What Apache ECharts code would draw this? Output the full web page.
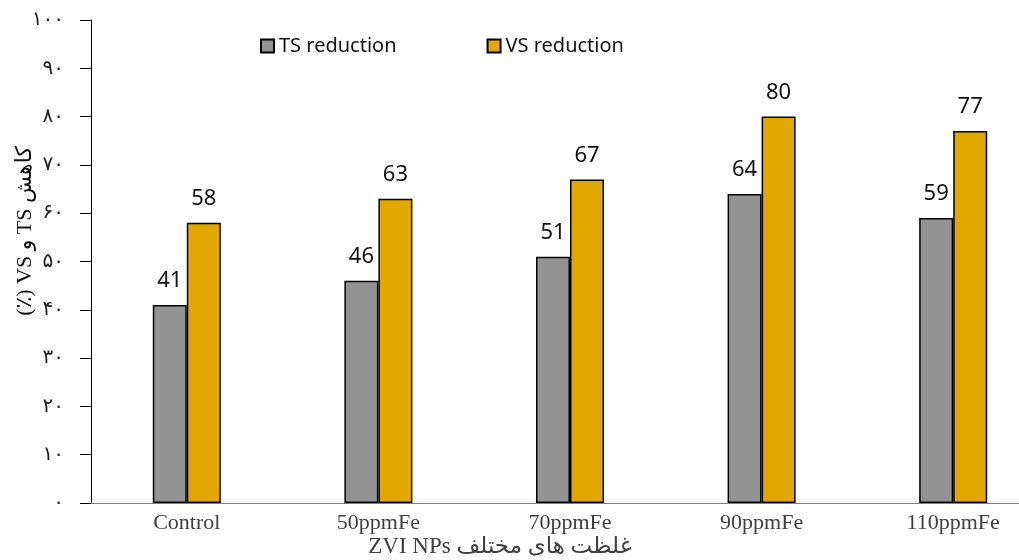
<!DOCTYPE html>
<html>
<head>
<meta charset="utf-8">
<script src="https://cdn.jsdelivr.net/npm/echarts@6/dist/echarts.min.js"></script>
<style>
  html, body { margin: 0; padding: 0; background: #fff; overflow: hidden; width: 1019px; height: 560px; }
  /* the drawing surface is a little wider than the page, so the last group sits near the border */
  #chart { width: 1049px; height: 560px; }
</style>
</head>
<body>
<div id="chart"></div>
<script>
// Treatments and measured reductions (%)
const categories = ['Control', '50ppmFe', '70ppmFe', '90ppmFe', '110ppmFe'];
const tsReduction = [41, 46, 51, 64, 59];
const vsReduction = [58, 63, 67, 80, 77];
// Y tick labels in Persian digits, 0..100 step 10
const yTickLabels = ['۰', '۱۰', '۲۰', '۳۰', '۴۰', '۵۰', '۶۰', '۷۰', '۸۰', '۹۰', '۱۰۰'];

const serif = "'Liberation Serif', 'DejaVu Serif', 'DejaVu Sans', serif";
const sans = "'Noto Sans', 'Open Sans', sans-serif";

const chart = echarts.init(document.getElementById('chart'));

const barLabel = {
  show: true,
  position: 'top',
  distance: 13,
  color: '#111',
  fontFamily: sans,
  fontSize: 22
};

chart.setOption({
  animation: false,
  backgroundColor: '#fff',
  grid: { left: 91, top: 20, bottom: 57, right: 0, containLabel: false },
  legend: {
    top: 31,
    left: 255,
    itemWidth: 13,
    itemHeight: 13,
    itemGap: 90,
    icon: 'rect',
    textStyle: { fontFamily: sans, fontSize: 20, color: '#111' },
    data: ['TS reduction', 'VS reduction']
  },
  xAxis: {
    type: 'category',
    data: categories,
    axisLine: { lineStyle: { color: '#7f7f7f', width: 1 } },
    axisTick: { show: false },
    axisLabel: { fontFamily: serif, fontSize: 22, color: '#404040', margin: 9 }
  },
  yAxis: {
    type: 'value',
    min: 0,
    max: 100,
    interval: 10,
    splitLine: { show: false },
    axisLine: { show: true, lineStyle: { color: '#000', width: 1 } },
    axisTick: { show: true, inside: false, length: 11, lineStyle: { color: '#000' } },
    axisLabel: {
      fontFamily: serif,
      fontSize: 20,
      color: '#222',
      margin: 27,
      formatter: (v) => yTickLabels[Math.round(v / 10)]
    }
  },
  graphic: [
    {
      type: 'text',
      x: 25,
      y: 231,
      rotation: Math.PI / 2,
      style: {
        text: '(٪) VS و TS کاهش',
        font: "22px " + serif,
        fill: '#111',
        textAlign: 'center',
        textVerticalAlign: 'middle'
      }
    },
    {
      type: 'text',
      x: 500,
      y: 547,
      style: {
        text: 'ZVI NPs غلظت های مختلف',
        font: "23px " + serif,
        fill: '#404040',
        textAlign: 'center',
        textVerticalAlign: 'middle'
      }
    }
  ],
  series: [
    {
      name: 'TS reduction',
      type: 'bar',
      data: tsReduction,
      barGap: '0%',
      barCategoryGap: '64.5%',
      itemStyle: { color: '#939393', borderColor: '#000', borderWidth: 1.5 },
      label: barLabel
    },
    {
      name: 'VS reduction',
      type: 'bar',
      data: vsReduction,
      itemStyle: { color: '#E2A800', borderColor: '#000', borderWidth: 1.5 },
      label: barLabel
    }
  ]
});
</script>
</body>
</html>
